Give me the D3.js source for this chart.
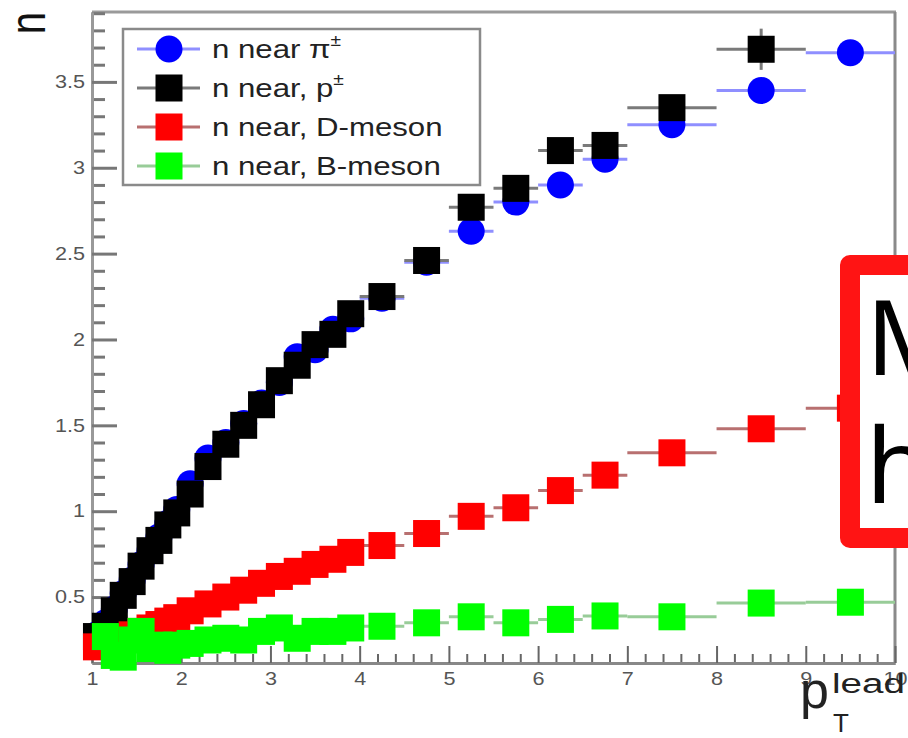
<!DOCTYPE html>
<html><head><meta charset="utf-8">
<script src="https://cdn.jsdelivr.net/npm/d3@7"></script>
<style>html,body{margin:0;padding:0;background:#fff;} svg{display:block;}</style>
</head><body>
<svg id="chart" width="908" height="738"></svg>
<script>
// ---- data ----
const binCenters = [1.05,1.15,1.25,1.35,1.45,1.55,1.65,1.75,1.85,1.95,
  2.1,2.3,2.5,2.7,2.9,3.1,3.3,3.5,3.7,3.9,
  4.25,4.75,5.25,5.75,6.25,6.75,7.5,8.5,9.5];
const binHalfWidths = [0.05,0.05,0.05,0.05,0.05,0.05,0.05,0.05,0.05,0.05,
  0.1,0.1,0.1,0.1,0.1,0.1,0.1,0.1,0.1,0.1,
  0.25,0.25,0.25,0.25,0.25,0.25,0.5,0.5,0.5];
const nearPion = [0.28,0.35,0.43,0.52,0.60,0.69,0.77,0.85,0.93,1.01,
  1.16,1.31,1.40,1.51,1.63,1.75,1.90,1.94,2.06,2.12,
  2.24,2.45,2.63,2.80,2.90,3.05,3.25,3.45,3.67];
const nearProton = [0.27,0.33,0.42,0.51,0.59,0.68,0.77,0.83,0.92,0.99,
  1.10,1.26,1.39,1.50,1.62,1.76,1.85,1.97,2.03,2.15,
  2.25,2.46,2.77,2.88,3.10,3.13,3.35,3.69,null];
const nearProtonErr = [0,0,0,0,0,0,0,0,0,0, 0,0,0,0,0,0,0,0,0,0, 0,0,0,0,0,0,0,0.12,0];
const nearDMeson = [0.21,0.22,0.24,0.26,0.28,0.30,0.32,0.34,0.36,0.38,
  0.42,0.46,0.50,0.54,0.58,0.62,0.65,0.69,0.72,0.76,
  0.80,0.87,0.97,1.02,1.12,1.21,1.34,1.48,1.60];
const nearBMeson = [null,0.27,0.16,0.15,0.25,0.30,0.20,0.22,0.19,0.22,
  0.23,0.25,0.26,0.25,0.30,0.32,0.26,0.30,0.30,0.32,
  0.33,0.35,0.385,0.35,0.37,0.39,0.385,0.465,0.47];
const yMajorTicks = [0.5,1,1.5,2,2.5,3,3.5];
const yTickLabels = ["0.5","1","1.5","2","2.5","3","3.5"];
const xMajorTicks = [1,2,3,4,5,6,7,8,9,10];
const xTickLabels = ["1","2","3","4","5","6","7","8","9","10"];
const legendLabels = [["n near \u03c0","\u00b1"],["n near, p","\u00b1"],["n near, D-meson",""],["n near, B-meson",""]];

// ---- styles ----
const series = [
  {vals: nearPion, err: null, shape: "circle", fill: "#0000ff", bar: "#8f8fff"},
  {vals: nearProton, err: nearProtonErr, shape: "square", fill: "#000000", bar: "#7a7a7a"},
  {vals: nearDMeson, err: null, shape: "square", fill: "#ff0000", bar: "#b87070"},
  {vals: nearBMeson, err: null, shape: "square", fill: "#00ff00", bar: "#98cc98"}
];
const FONT = "'Liberation Sans', Arial, Helvetica, sans-serif";
const STRETCH = 1.2;

const svg = d3.select("#chart");
const x = d3.scaleLinear().domain([1,10]).range([92,895]);
const y = d3.scaleLinear().domain([0.116,3.907]).range([663,12]);

// frame
svg.append("line").attr("x1",92).attr("x2",896).attr("y1",12).attr("y2",12).attr("stroke","#9a9a9a").attr("stroke-width",3);
svg.append("line").attr("x1",895).attr("x2",895).attr("y1",12).attr("y2",663).attr("stroke","#8a8a8a").attr("stroke-width",3);

// y axis
const yMinor = d3.range(2,40).map(d=>d/10).filter(v=>!yMajorTicks.some(m=>Math.abs(m-v)<1e-6));
const gyMinor = svg.append("g").attr("transform","translate(92,0)")
  .call(d3.axisLeft(y).tickValues(yMinor).tickSize(-13).tickSizeOuter(0).tickFormat(""));
const gy = svg.append("g").attr("transform","translate(92,0)")
  .call(d3.axisLeft(y).tickValues(yMajorTicks).tickSize(-25).tickSizeOuter(0).tickPadding(7)
    .tickFormat((d,i)=>yTickLabels[i]));
[gyMinor, gy].forEach(g=>{
  g.selectAll(".tick line").attr("stroke","#777").attr("stroke-width",3);
  g.select(".domain").attr("stroke","#999").attr("stroke-width",3);
});
gy.selectAll(".tick text").attr("x",0).attr("transform",`translate(-7,0) scale(${STRETCH},1)`)
  .attr("font-family",FONT).attr("font-size",18).attr("fill","#555");

// x axis
const xMinor = d3.range(10,101,2).map(d=>d/10).filter(v=>!xMajorTicks.some(m=>Math.abs(m-v)<1e-6));
const gxMinor = svg.append("g").attr("transform","translate(0,663)")
  .call(d3.axisBottom(x).tickValues(xMinor).tickSize(-9).tickSizeOuter(0).tickFormat(""));
const gx = svg.append("g").attr("transform","translate(0,663)")
  .call(d3.axisBottom(x).tickValues(xMajorTicks).tickSize(-17).tickSizeOuter(0).tickPadding(9)
    .tickFormat((d,i)=>xTickLabels[i]));
[gxMinor, gx].forEach(g=>{
  g.selectAll(".tick line").attr("stroke","#666").attr("stroke-width",2);
  g.select(".domain").attr("stroke","#888").attr("stroke-width",3);
});
gx.selectAll(".tick text").attr("transform",`scale(${STRETCH},1)`)
  .attr("font-family",FONT).attr("font-size",18).attr("fill","#555");

// data
const MS = 27;
series.forEach(s=>{
  const g = svg.append("g");
  const pts = binCenters.map((c,i)=>({c, h: binHalfWidths[i], v: s.vals[i], e: s.err ? s.err[i] : 0}))
    .filter(p=>p.v!==null);
  g.selectAll("line.xe").data(pts).join("line").attr("class","xe")
    .attr("x1",p=>x(p.c-p.h)).attr("x2",p=>x(p.c+p.h))
    .attr("y1",p=>y(p.v)).attr("y2",p=>y(p.v))
    .attr("stroke",s.bar).attr("stroke-width",3);
  g.selectAll("line.ye").data(pts.filter(p=>p.e>0)).join("line").attr("class","ye")
    .attr("x1",p=>x(p.c)).attr("x2",p=>x(p.c))
    .attr("y1",p=>y(p.v-p.e)).attr("y2",p=>y(p.v+p.e))
    .attr("stroke",s.bar).attr("stroke-width",3);
  if (s.shape==="circle") {
    g.selectAll("circle").data(pts).join("circle")
      .attr("cx",p=>x(p.c)).attr("cy",p=>y(p.v)).attr("r",MS/2).attr("fill",s.fill);
  } else {
    g.selectAll("rect").data(pts).join("rect")
      .attr("x",p=>x(p.c)-MS/2).attr("y",p=>y(p.v)-MS/2).attr("width",MS).attr("height",MS).attr("fill",s.fill);
  }
});

// legend
const lg = svg.append("g");
lg.append("rect").attr("x",123).attr("y",29).attr("width",357).attr("height",156)
  .attr("fill","#fff").attr("stroke","#8a8a8a").attr("stroke-width",2.5);
series.forEach((s,i)=>{
  const cy = 49 + i*39;
  lg.append("line").attr("x1",137).attr("x2",200).attr("y1",cy).attr("y2",cy).attr("stroke",s.bar).attr("stroke-width",3);
  if (s.shape==="circle") lg.append("circle").attr("cx",169).attr("cy",cy).attr("r",MS/2).attr("fill",s.fill);
  else lg.append("rect").attr("x",169-MS/2).attr("y",cy-MS/2).attr("width",MS).attr("height",MS).attr("fill",s.fill);
  const t = lg.append("text").attr("transform",`translate(212,${cy+9}) scale(${STRETCH},1)`)
    .attr("font-family",FONT).attr("font-size",26).attr("fill","#222");
  t.append("tspan").text(legendLabels[i][0]);
  if (legendLabels[i][1]) t.append("tspan").attr("dy",-12).attr("font-size",16).text(legendLabels[i][1]);
});

// axis titles
svg.append("text").attr("transform",`translate(45,12) scale(1.25,1) rotate(-90)`)
  .attr("text-anchor","end").attr("font-family",FONT).attr("font-size",40).attr("fill","#111").text("n");
svg.append("text").attr("x",800).attr("y",708).attr("font-family",FONT).attr("font-size",52).attr("fill","#222").text("p");
svg.append("text").attr("x",832).attr("y",693).attr("font-family",FONT).attr("font-size",27).attr("fill","#222")
  .attr("textLength",73).attr("lengthAdjust","spacingAndGlyphs").text("lead");
svg.append("text").attr("x",833).attr("y",732).attr("font-family",FONT).attr("font-size",26).attr("fill","#222").text("T");

// annotation box (cropped at the right edge, as in the reference)
const defs = svg.append("defs");
defs.append("clipPath").attr("id","clipAll").append("rect").attr("x",0).attr("y",0).attr("width",908).attr("height",738);
const ann = svg.append("g").attr("clip-path","url(#clipAll)");
ann.append("rect").attr("x",850).attr("y",265).attr("width",200).attr("height",273)
  .attr("fill","#fff").attr("stroke","#ff1414").attr("stroke-width",20).attr("stroke-linejoin","round");
ann.append("text").attr("x",866).attr("y",375).attr("font-family","'Noto Sans', 'DejaVu Sans', sans-serif")
  .attr("font-size",104).attr("fill","#000").text("M");
ann.append("text").attr("x",866).attr("y",503).attr("font-family","'Noto Sans', 'DejaVu Sans', sans-serif")
  .attr("font-size",104).attr("fill","#000").text("h");
</script>
</body></html>
